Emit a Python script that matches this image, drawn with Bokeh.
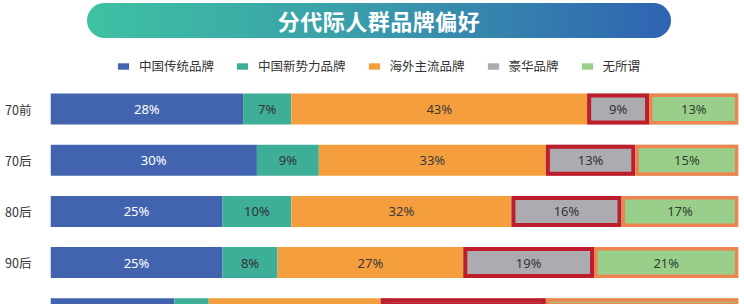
from bokeh.plotting import figure
from bokeh.models import ColumnDataSource, Range1d, Legend, LegendItem, Div, FixedTicker
from bokeh.layouts import column
from bokeh.embed import file_html
from bokeh.resources import INLINE
from bokeh.core.properties import value

# ---- data ----
title = "分代际人群品牌偏好"
categories = ["70前", "70后", "80后", "90后", "00后"]
series_names = ["中国传统品牌", "中国新势力品牌", "海外主流品牌", "豪华品牌", "无所谓"]
china_traditional = [28, 30, 25, 25, 18]
china_new = [7, 9, 10, 8, 5]
overseas_mainstream = [43, 33, 32, 27, 25]
luxury = [9, 13, 16, 19, 24]
indifferent = [13, 15, 17, 21, 28]

series_values = [china_traditional, china_new, overseas_mainstream, luxury, indifferent]
colors = ["#4264AF", "#3DAE98", "#F59E3E", "#ABABB0", "#99CF8A"]
label_colors = ["#FFFFFF", "#333333", "#3A3A3A", "#333333", "#2F3F2F"]
border_colors = [None, None, None, "#BE1E2B", "#EE8450"]
border_widths = [0, 0, 0, 4, 3.5]

# ---- layout constants ----
W = 744
FIG_H = 259
LEFT = 50
RIGHT = 6
FRAME_W = W - LEFT - RIGHT
PX_PER_ROW = 51.2
TOP_OFFSET = 63.5            # px from frame top to first row centre
BAR_PX = 31
y_top = -TOP_OFFSET / PX_PER_ROW
y_bottom = (FIG_H - TOP_OFFSET) / PX_PER_ROW
bar_h = BAR_PX / PX_PER_ROW
px_x = FRAME_W / 100.0

banner = Div(
    text=(
        '<div style="margin-left:87px;margin-top:3px;width:584px;height:35px;'
        'border-radius:18px;background:linear-gradient(90deg,#3EC1A2 0%,#3A9FAA 45%,#2F63B2 100%);'
        'color:#FFFFFF;font-family:\'Noto Sans CJK SC\';font-weight:bold;font-size:22px;'
        'display:flex;align-items:center;justify-content:center;letter-spacing:0.5px;">'
        + title + '</div>'
    ),
    width=W, height=45, margin=0,
)

p = figure(width=W, height=FIG_H,
           x_range=Range1d(0, 100), y_range=Range1d(y_bottom, y_top),
           output_backend="svg", toolbar_location=None, x_axis_location=None,
           min_border_left=LEFT, min_border_right=RIGHT,
           min_border_top=0, min_border_bottom=0)
p.outline_line_color = None
p.grid.visible = False
p.background_fill_color = "#FFFFFF"
p.border_fill_color = "#FFFFFF"

ys = list(range(len(categories)))
p.yaxis.ticker = FixedTicker(ticks=ys)
p.yaxis.major_label_overrides = {i: c for i, c in enumerate(categories)}
p.yaxis.axis_line_color = None
p.yaxis.major_tick_line_color = None
p.yaxis.minor_tick_line_color = None
p.yaxis.major_tick_out = 0
p.yaxis.major_label_standoff = 19
p.yaxis.major_label_text_font = "Noto Sans CJK SC"
p.yaxis.major_label_text_font_size = "12.5px"
p.yaxis.major_label_text_color = "#333333"

# rows whose labels fall fully inside the visible frame (the last row is cut by the picture edge)
label_half = 8 / PX_PER_ROW
visible = [i for i in ys if i + label_half <= y_bottom]

cum = [0.0] * len(categories)
renderers = []
for k, vals in enumerate(series_values):
    left = cum[:]
    right = [l + v for l, v in zip(left, vals)]
    cum = right
    src = ColumnDataSource(dict(y=ys, left=left, right=right))
    r = p.hbar(y="y", left="left", right="right", height=bar_h, source=src,
               fill_color=colors[k], line_color=None)
    renderers.append(r)
    if border_colors[k]:
        lw = border_widths[k]
        bsrc = ColumnDataSource(dict(
            y=ys,
            left=[l + lw / 2 / px_x for l in left],
            right=[rr - lw / 2 / px_x for rr in right],
        ))
        p.hbar(y="y", left="left", right="right", height=bar_h - lw / PX_PER_ROW,
               source=bsrc, fill_color=None, line_color=border_colors[k],
               line_width=lw, line_join="miter")
    lsrc = ColumnDataSource(dict(
        y=[ys[i] for i in visible],
        mid=[(left[i] + right[i]) / 2 for i in visible],
        label=[f"{vals[i]}%" for i in visible],
    ))
    p.text(x="mid", y="y", text="label", source=lsrc,
           text_align="center", text_baseline="middle",
           text_font=value("Noto Sans"), text_font_size="13px",
           text_color=label_colors[k])

legend = Legend(
    items=[LegendItem(label=n, renderers=[r]) for n, r in zip(series_names, renderers)],
    orientation="horizontal", location=(66, 229),
    glyph_width=14, glyph_height=8, label_standoff=9, spacing=21,
    padding=0, margin=0, border_line_color=None, background_fill_alpha=0,
    label_text_font="Noto Sans CJK SC", label_text_font_size="12.5px",
    label_text_color="#333333", label_height=16,
)
p.add_layout(legend)

layout = column(banner, p, spacing=0)
open("out.html", "w").write(file_html(layout, INLINE))
